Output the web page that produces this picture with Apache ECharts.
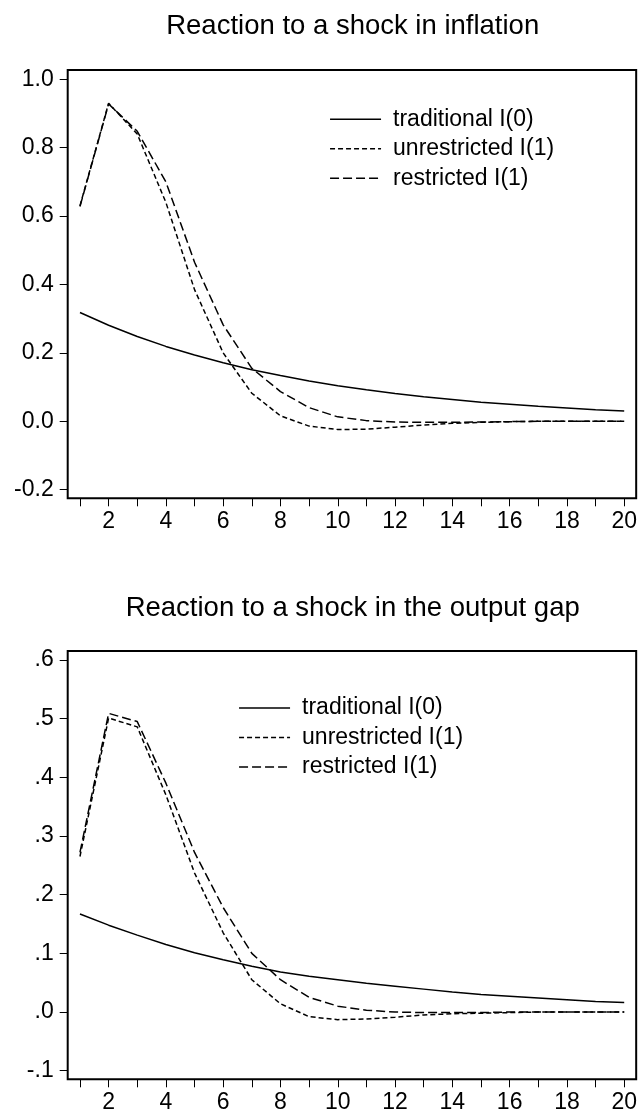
<!DOCTYPE html>
<html>
<head>
<meta charset="utf-8">
<script src="https://cdn.jsdelivr.net/npm/echarts@6/dist/echarts.min.js"></script>
<style>
html,body{margin:0;padding:0;background:#fff;}
#chart{width:640px;height:1115px;}
</style>
</head>
<body>
<div id="chart"></div>
<script>
// ---- data ----
var periods = [1,2,3,4,5,6,7,8,9,10,11,12,13,14,15,16,17,18,19,20];
var seriesNames = ['traditional I(0)', 'unrestricted I(1)', 'restricted I(1)'];

var inflTraditional  = [0.318,0.281,0.248,0.219,0.194,0.171,0.151,0.134,0.118,0.104,0.092,0.081,0.072,0.064,0.056,0.050,0.044,0.039,0.034,0.030];
var inflUnrestricted = [0.630,0.930,0.840,0.640,0.385,0.200,0.082,0.016,-0.014,-0.024,-0.023,-0.017,-0.011,-0.006,-0.003,-0.001,0.000,0.000,0.000,0.000];
var inflRestricted   = [0.628,0.928,0.848,0.700,0.465,0.282,0.155,0.087,0.040,0.013,0.002,-0.002,-0.003,-0.003,-0.002,-0.001,0.000,0.000,0.000,0.000];

var gapTraditional  = [0.167,0.148,0.131,0.115,0.101,0.089,0.078,0.068,0.061,0.055,0.049,0.044,0.039,0.034,0.030,0.027,0.024,0.021,0.018,0.016];
var gapUnrestricted = [0.265,0.501,0.486,0.370,0.237,0.135,0.055,0.014,-0.008,-0.013,-0.012,-0.009,-0.005,-0.003,-0.002,-0.001,0.000,0.000,0.000,0.000];
var gapRestricted   = [0.272,0.509,0.495,0.390,0.272,0.178,0.100,0.055,0.025,0.010,0.003,0.000,-0.001,-0.001,-0.001,0.000,0.000,0.000,0.000,0.000];

var xTickValues  = [1,2,3,4,5,6,7,8,9,10,11,12,13,14,15,16,17,18,19,20];
var xLabelValues = [2,4,6,8,10,12,14,16,18,20];
var yTicksTop    = [-0.2,0.0,0.2,0.4,0.6,0.8,1.0];
var yTicksBottom = [-0.1,0.0,0.1,0.2,0.3,0.4,0.5,0.6];

var titleTop = 'Reaction to a shock in inflation';
var titleBottom = 'Reaction to a shock in the output gap';

// ---- chart ----
var FONT = '"Liberation Sans", Arial, Helvetica, sans-serif';
var chart = echarts.init(document.getElementById('chart'), null, {renderer:'canvas'});

function pairs(vals){ return periods.map(function(p,i){ return [p, vals[i]]; }); }
var dashTypes = ['solid', [5,3], [9,4]];
function mkSeries(idx, vals, k){
  return {
    type:'line', name: seriesNames[k], xAxisIndex: idx, yAxisIndex: idx,
    data: pairs(vals), symbol:'none', showSymbol:false, animation:false,
    lineStyle:{color:'#000', width:1.5, type: dashTypes[k]},
    itemStyle:{color:'#000'}, z: 3
  };
}
function xAxis(gi){
  return {
    type:'value', gridIndex: gi, min:0.572, max:20.418,
    axisLine:{show:false, onZero:false}, splitLine:{show:false},
    axisTick:{show:true, inside:false, length:8, customValues: xTickValues, lineStyle:{color:'#000', width:1}},
    axisLabel:{show:true, customValues: xLabelValues, margin:12, color:'#000', fontSize:23, fontFamily:FONT}
  };
}
function yAxis(gi, mn, mx, ticks, fmt){
  return {
    type:'value', gridIndex: gi, min:mn, max:mx,
    axisLine:{show:false, onZero:false}, splitLine:{show:false},
    axisTick:{show:true, inside:false, length:8, customValues: ticks, lineStyle:{color:'#000', width:1}},
    axisLabel:{show:true, customValues: ticks, margin:14, color:'#000', fontSize:23, fontFamily:FONT,
      padding:[0,0,6,0], formatter: fmt}
  };
}
function legend(left, top){
  return {
    data: seriesNames, orient:'vertical', left:left, top:top, padding:0,
    itemWidth:51, itemHeight:14, itemGap:6.5, selectedMode:false,
    itemStyle:{color:'rgba(0,0,0,0)', borderWidth:0, opacity:0},
    lineStyle:{color:'#000', width:1.5},
    textStyle:{color:'#000', fontSize:23, fontFamily:FONT, padding:[0,0,0,7]}
  };
}

var option = {
  backgroundColor:'#fff',
  animation:false,
  graphic:[
    {type:'text', x:352.7, y:26.5, style:{text:titleTop, textAlign:'center', textVerticalAlign:'middle', fill:'#000', font:'27.5px '+FONT}},
    {type:'text', x:352.7, y:608, style:{text:titleBottom, textAlign:'center', textVerticalAlign:'middle', fill:'#000', font:'27.5px '+FONT}}
  ],
  grid:[
    {left:67.7, right:2.3, top:70, height:428.3, show:true, borderColor:'#000', borderWidth:2, backgroundColor:'transparent'},
    {left:67.7, right:2.3, top:651, height:428.3, show:true, borderColor:'#000', borderWidth:2, backgroundColor:'transparent'}
  ],
  legend:[ legend(329.3, 107.8), legend(238.3, 696.5) ],
  xAxis:[ xAxis(0), xAxis(1) ],
  yAxis:[
    yAxis(0, -0.2251, 1.0272, yTicksTop, function(v){ return v.toFixed(1); }),
    yAxis(1, -0.1147, 0.6153, yTicksBottom, function(v){ return v.toFixed(1).replace('0.', '.'); })
  ],
  series:[
    mkSeries(0, inflTraditional, 0),
    mkSeries(0, inflUnrestricted, 1),
    mkSeries(0, inflRestricted, 2),
    mkSeries(1, gapTraditional, 0),
    mkSeries(1, gapUnrestricted, 1),
    mkSeries(1, gapRestricted, 2)
  ]
};
chart.setOption(option);
</script>
</body>
</html>
